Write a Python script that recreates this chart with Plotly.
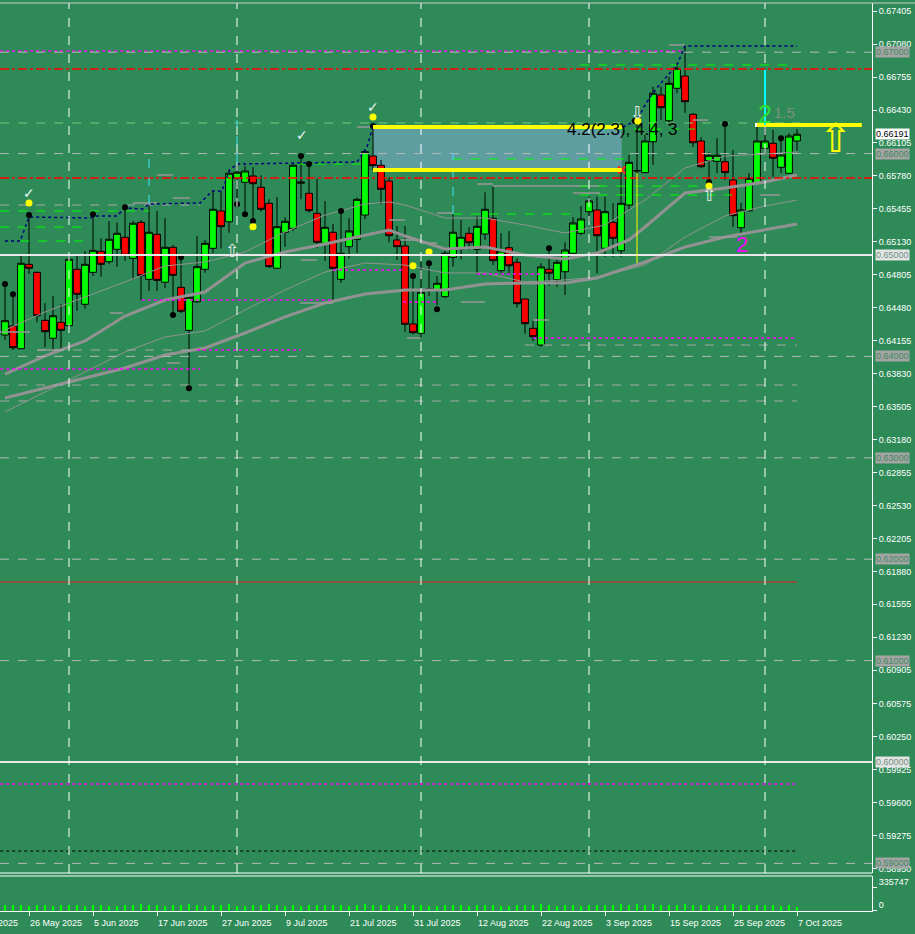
import plotly.graph_objects as go
import pandas as pd

# ---------------- data ----------------
days = pd.bdate_range("2025-05-21", "2025-10-07")
idx = list(range(len(days)))

opens = [0.64211,0.64300,0.64076,0.64908,0.64829,0.64356,0.64179,0.64336,0.64303,0.64859,
         0.64514,0.64829,0.65036,0.64934,0.65056,0.65175,0.64967,0.65322,0.64760,0.65204,
         0.64731,0.65076,0.64681,0.64257,0.64539,0.64859,0.65066,0.65434,0.65328,0.65756,
         0.65717,0.65779,0.65668,0.65510,0.64869,0.65224,0.65263,0.65707,0.65608,0.65411,
         0.65115,0.65224,0.64760,0.65082,0.65155,0.65394,0.65976,0.65885,0.65730,0.65148,
         0.65089,0.64320,0.64228,0.64660,0.64655,0.64589,0.64977,0.65059,0.65214,0.65056,
         0.65207,0.65362,0.64845,0.65072,0.64928,0.64566,0.64277,0.64112,0.64859,0.64756,
         0.64835,0.65017,0.65214,0.65427,0.65444,0.65066,0.65322,0.65042,0.65493,0.65828,
         0.65812,0.66117,0.66578,0.66324,0.66644,0.66765,0.66388,0.66124,0.65930,0.65924,
         0.65920,0.65740,0.65269,0.65437,0.65713,0.66052,0.66102,0.65865,0.65806,0.66124]
highs = [0.64704,0.64612,0.64990,0.65394,0.64835,0.64524,0.64596,0.64517,0.64990,0.64990,
         0.65039,0.65401,0.65165,0.65335,0.65322,0.65470,0.65335,0.65345,0.65500,0.65434,
         0.65362,0.65099,0.64977,0.64589,0.65187,0.65148,0.65631,0.65631,0.65845,0.65888,
         0.65878,0.65868,0.65786,0.65549,0.65569,0.65372,0.65895,0.65954,0.65897,0.65750,
         0.65533,0.65306,0.65434,0.65362,0.65565,0.66036,0.66262,0.65937,0.65766,0.65286,
         0.65286,0.64793,0.64934,0.64918,0.64793,0.65076,0.65411,0.65345,0.65273,0.65388,
         0.65618,0.65674,0.65214,0.65237,0.64967,0.64566,0.64352,0.64918,0.65066,0.64983,
         0.65125,0.65372,0.65483,0.65575,0.65575,0.65575,0.65510,0.65855,0.65986,0.66351,
         0.66183,0.66660,0.66660,0.66758,0.66893,0.67061,0.66400,0.66161,0.66019,0.66151,
         0.66282,0.66036,0.65516,0.65806,0.66299,0.66265,0.66233,0.66151,0.66200,0.66240]
lows = [0.64162,0.64063,0.64073,0.64813,0.64336,0.64090,0.64070,0.64070,0.64290,0.64451,
        0.64470,0.64793,0.64786,0.64911,0.64885,0.64944,0.64760,0.64553,0.64648,0.64648,
        0.64672,0.64441,0.64428,0.63718,0.64530,0.64825,0.65017,0.65066,0.65220,0.65510,
        0.65401,0.65335,0.65428,0.64872,0.64862,0.65082,0.65237,0.65549,0.65417,0.65066,
        0.64944,0.64539,0.64727,0.64967,0.65023,0.65352,0.65838,0.65500,0.65125,0.64951,
        0.64244,0.64218,0.64188,0.64596,0.64507,0.64579,0.64885,0.64958,0.65049,0.64820,
        0.65148,0.64901,0.64825,0.64810,0.64480,0.64224,0.64152,0.64096,0.64694,0.64687,
        0.64606,0.64983,0.65197,0.65328,0.64820,0.64983,0.64983,0.64983,0.65444,0.65799,
        0.65806,0.65888,0.66331,0.66282,0.66595,0.66403,0.66062,0.65855,0.65723,0.65806,
        0.65740,0.65279,0.65207,0.65427,0.65707,0.66003,0.65772,0.65806,0.65799,0.66029]
closes = [0.64352,0.64086,0.64918,0.64869,0.64401,0.64244,0.64401,0.64257,0.64958,0.64612,
          0.64908,0.65046,0.64908,0.65155,0.65214,0.64997,0.65313,0.64796,0.65224,0.64750,
          0.65076,0.64800,0.64445,0.64583,0.64885,0.65115,0.65451,0.65279,0.65806,0.65816,
          0.65828,0.65703,0.65451,0.64885,0.65279,0.65332,0.65885,0.65720,0.65437,0.65125,
          0.65273,0.64869,0.65017,0.65237,0.65549,0.66019,0.65881,0.65648,0.65190,0.65082,
          0.64317,0.64234,0.64632,0.64665,0.64721,0.65017,0.65224,0.65175,0.65121,0.65283,
          0.65451,0.64944,0.65039,0.64894,0.64520,0.64323,0.64194,0.64882,0.64820,0.64928,
          0.65049,0.65316,0.65355,0.65533,0.65190,0.65427,0.65165,0.65510,0.65914,0.65833,
          0.66124,0.66595,0.66453,0.66693,0.66841,0.66512,0.66107,0.65871,0.65983,0.65983,
          0.65812,0.65388,0.65444,0.65756,0.66124,0.66124,0.65954,0.65986,0.66173,0.66191]
volumes = [82000,91000,88000,76000,84000,95000,79000,86000,92000,81000,
           77000,89000,85000,80000,74000,93000,87000,98000,90000,83000,
           78000,94000,86000,99000,88000,72000,91000,84000,96000,70000,
           75000,82000,87000,97000,89000,79000,92000,76000,85000,88000,
           81000,95000,84000,78000,90000,97000,83000,86000,93000,80000,
           99000,88000,94000,73000,77000,86000,89000,82000,75000,84000,
           91000,93000,80000,78000,88000,92000,85000,100000,87000,79000,
           83000,90000,76000,81000,94000,89000,82000,96000,91000,98000,
           87000,99000,85000,92000,90000,102000,95000,88000,84000,80000,
           86000,97000,83000,89000,93000,81000,85000,78000,88000,60000]

# moving averages read at sample bars
ma1_x = [0,5,10,15,20,25,30,35,40,45,48,50,55,60,65,70,74,78,80,85,90,95,99]
ma1_y = [0.63826,0.64004,0.64152,0.64398,0.64556,0.64635,0.64921,0.65030,0.65108,0.65197,0.65247,
         0.65187,0.65059,0.65079,0.65000,0.64961,0.65020,0.65148,0.65276,0.65611,0.65661,0.65720,0.65789]
ma2_x = [0,5,10,15,20,25,30,35,40,45,50,55,60,65,70,74,80,85,90,95,99]
ma2_y = [0.63590,0.63689,0.63787,0.63886,0.64014,0.64083,0.64231,0.64389,0.64527,0.64615,0.64655,
         0.64655,0.64714,0.64724,0.64724,0.64773,0.64931,0.65079,0.65177,0.65247,0.65306]
ma3_x = [0,5,10,15,20,25,30,35,40,45,48,50,55,60,65,70,75,80,85,90,95,99]
ma3_y = [0.64260,0.64438,0.64586,0.64734,0.64892,0.64931,0.65030,0.65227,0.65394,0.65503,0.65523,
         0.65493,0.65365,0.65365,0.65296,0.65217,0.65296,0.65542,0.65858,0.65976,0.65996,0.66016]
ma4_x = [0,5,10,15,20,25,30,35,40,45,50,55,60,65,70,74,80,85,90,95,99]
ma4_y = [0.63452,0.63649,0.63846,0.64044,0.64191,0.64251,0.64458,0.64655,0.64832,0.64921,0.64901,
         0.64823,0.64823,0.64734,0.64754,0.64783,0.64901,0.65177,0.65385,0.65483,0.65542]

# fractal dots and signal dots
frac_x = [0,1,3,11,15,21,22,23,29,30,31,37,38,42,46,51,53,54,68,78.7,88,90,97]
frac_y = [0.64714,0.64612,0.65394,0.65401,0.65470,0.64408,0.64977,0.63686,0.65500,0.65401,0.65335,
          0.65976,0.65897,0.65434,0.66272,0.64793,0.64918,0.64465,0.65066,0.66321,0.65717,0.66292,0.66151]
sig_x = [3,31,46,51,53,79.1,88]
sig_y = [0.65513,0.65279,0.66361,0.64894,0.65030,0.66321,0.65680]

# stepped trailing lines
trail_a_x = [0,1.9,3,10.6,11.5,14,15,17.25,18,24.4,25.9,27.1,28.1,29,44,45.25,46]
trail_a_y = [0.65138,0.65138,0.65375,0.65365,0.65385,0.65385,0.65464,0.65454,0.65503,0.65513,
             0.65631,0.65631,0.65838,0.65897,0.65917,0.66065,0.66262]
trail_b_x = [77.25,79,80,81,82.1,84,85,99]
trail_b_y = [0.66262,0.66331,0.66479,0.66598,0.66706,0.66874,0.67061,0.67061]

# level segments: start bar, end bar, price
green_x0 = [-0.6,-0.6,1.9,36.6,56,56,71.9,71.9,71.9,71.9]
green_x1 = [18,10.6,10.6,45,77.9,71.9,98.75,86.25,86.9,90.9]
green_y  = [0.65434,0.65276,0.65138,0.65897,0.65947,0.65404,0.66874,0.66242,0.65680,0.65592]
pale_x0 = [-0.6]; pale_x1 = [99.4]; pale_y = [0.66302]
mag_x0 = [-0.6,-0.6,24,17.1,41,49.75,59,66,-0.6]
mag_x1 = [84.75,24.4,37,40.9,49.75,54,66.9,99,99]
mag_y  = [0.67012,0.63876,0.64063,0.64556,0.64852,0.64536,0.64813,0.64181,0.59783]
grey_x0 = [-0.6,-0.6,-0.6,4,65]
grey_x1 = [99,99,24.4,24,99]
grey_y  = [0.63718,0.63560,0.65493,0.64063,0.64112]
# short grey level stubs
stub_x0 = [19,16,21,13.1,-0.6,4,20.25,44,59,61,71,54,48,37,49.4,52,57,36.9,50.25,66,83,86,94.4,88]
stub_x1 = [21,19,23.1,14.75,3.1,7.25,21.9,45.9,61,74.4,74.4,56,50,39,51.5,54,60,41,51.9,68,85,87.9,96.9,91.5]
stub_y  = [0.65789,0.65513,0.65562,0.64428,0.64241,0.64063,0.63935,0.66262,0.65700,0.65680,0.65611,
           0.65414,0.65345,0.64951,0.65148,0.65118,0.64536,0.64527,0.64181,0.64359,0.67071,0.66331,
           0.65592,0.65177]
red_x0 = [-0.6]; red_x1 = [99]; red_y = [0.61775]
blk_x0 = [-0.6]; blk_x1 = [99]; blk_y = [0.59122]

round_levels = [0.67, 0.66, 0.64, 0.63, 0.62, 0.61, 0.59]
white_levels = [0.65, 0.60]
red_levels = [0.66834, 0.65759]
last_price = 0.66191

box_x = [46, 77.1]
box_y = [0.65838, 0.66262]
target_x = [94, 107.1]
target_y = 0.66282
target_marks_x = [94, 96.5, 99]
cyan_x = 95
cyan_y = [0.66282, 0.66824]
yel_vert_x = 79
yel_vert_y = [0.64921, 0.65809]
cyan_dash_x = [18, 29, 56]
cyan_dash_y0 = [0.65503, 0.65907, 0.65404]
cyan_dash_y1 = [0.65986, 0.66331, 0.66006]

price_ticks = [0.67405,0.67080,0.66755,0.66430,0.66105,0.65780,0.65455,0.65130,0.64805,0.64480,
               0.64155,0.63830,0.63505,0.63180,0.62855,0.62530,0.62205,0.61880,0.61555,0.61230,
               0.60905,0.60575,0.60250,0.59925,0.59600,0.59275,0.58950]
price_tick_text = ["%.5f" % v for v in price_ticks]

date_labels = ["14 May 2025","26 May 2025","5 Jun 2025","17 Jun 2025","27 Jun 2025","9 Jul 2025",
               "21 Jul 2025","31 Jul 2025","12 Aug 2025","22 Aug 2025","3 Sep 2025","15 Sep 2025",
               "25 Sep 2025","7 Oct 2025"]

# ---------------- helpers ----------------
def pos_of(label):
    d = pd.Timestamp(label)
    if d >= days[0]:
        return len(pd.bdate_range(days[0], d)) - 1
    return -(len(pd.bdate_range(d, days[0])) - 1)

date_pos = [pos_of(l) for l in date_labels]
month_starts = [i for i in idx if i > 0 and days[i].month != days[i - 1].month]

X_RANGE = [-0.625, 108.375]

def segs(x0s, x1s, ys):
    X, Y = [], []
    for a, b, y in zip(x0s, x1s, ys):
        X += [a, b, None]
        Y += [y, y, None]
    return X, Y

FONT = "Liberation Sans"
fig = go.Figure()

def add_line(x, y, color, width=1, dash=None, ax='y'):
    fig.add_trace(go.Scatter(x=x, y=y, mode='lines', yaxis=ax, hoverinfo='skip',
                             line=dict(color=color, width=width, dash=dash), connectgaps=False))

# moving averages
add_line(ma4_x, ma4_y, '#929292', 1)
add_line(ma3_x, ma3_y, '#929292', 1)
add_line(ma2_x, ma2_y, '#929292', 3)
add_line(ma1_x, ma1_y, '#929292', 3)

# segments
add_line(*segs(stub_x0, stub_x1, stub_y), '#999999', 1.5)
add_line(*segs(grey_x0, grey_x1, grey_y), '#a8a8a8', 1, 'dash')
add_line(*segs(pale_x0, pale_x1, pale_y), '#78c878', 1, 'dash')
add_line(*segs(green_x0, green_x1, green_y), '#00ff00', 1, 'dash')
add_line(*segs(mag_x0, mag_x1, mag_y), '#ff00ff', 1.5, 'dot')
add_line(*segs(red_x0, red_x1, red_y), '#e02020', 1)
add_line(*segs(blk_x0, blk_x1, blk_y), '#000000', 1, 'dot')
add_line(trail_a_x, trail_a_y, '#000080', 1.5, 'dot')
add_line(trail_b_x, trail_b_y, '#000080', 1.5, 'dot')

# candles
fig.add_trace(go.Candlestick(
    x=idx, open=opens, high=highs, low=lows, close=closes,
    increasing=dict(line=dict(color='black', width=1), fillcolor='#00ff00'),
    decreasing=dict(line=dict(color='black', width=1), fillcolor='#ff0000'),
    whiskerwidth=0, hoverinfo='skip', yaxis='y'))

# dots
fig.add_trace(go.Scatter(x=frac_x, y=frac_y, mode='markers', hoverinfo='skip',
                         marker=dict(color='black', size=6)))
fig.add_trace(go.Scatter(x=sig_x, y=sig_y, mode='markers', hoverinfo='skip',
                         marker=dict(color='#ffff00', size=7)))
fig.add_trace(go.Scatter(x=[box_x[1]], y=[box_y[0]], mode='markers', hoverinfo='skip',
                         marker=dict(color='#ff2020', size=7, symbol='x-thin', line=dict(color='#ff2020', width=2))))
fig.add_trace(go.Scatter(x=target_marks_x, y=[target_y] * 3, mode='markers', hoverinfo='skip',
                         marker=dict(color='white', size=4, symbol='square')))

# volume
fig.add_trace(go.Bar(x=idx, y=volumes, yaxis='y2', marker=dict(color='#00ff00', line=dict(width=0)),
                     width=0.15, hoverinfo='skip'))

shapes = []
for v in round_levels:
    shapes.append(dict(type='line', xref='paper', x0=0, x1=1, yref='y', y0=v, y1=v,
                       line=dict(color='#b8b8b8', width=1, dash='dash')))
for v in white_levels:
    shapes.append(dict(type='line', xref='paper', x0=0, x1=1, yref='y', y0=v, y1=v,
                       line=dict(color='#e8e8e8', width=2)))
for v in red_levels:
    shapes.append(dict(type='line', xref='paper', x0=0, x1=1, yref='y', y0=v, y1=v,
                       line=dict(color='#ff0000', width=1.5, dash='dashdot')))
for m in month_starts:
    shapes.append(dict(type='line', xref='x', x0=m, x1=m, yref='y domain', y0=0, y1=1,
                       line=dict(color='white', width=1, dash='dash')))
for xx, a, b in zip(cyan_dash_x, cyan_dash_y0, cyan_dash_y1):
    shapes.append(dict(type='line', xref='x', x0=xx, x1=xx, yref='y', y0=a, y1=b,
                       line=dict(color='#40e0ff', width=1, dash='dash')))
shapes.append(dict(type='rect', xref='x', yref='y', x0=box_x[0], x1=box_x[1], y0=box_y[0], y1=box_y[1],
                   fillcolor='#5f9ea0', line=dict(width=0), layer='below'))
for v in box_y:
    shapes.append(dict(type='line', xref='x', yref='y', x0=box_x[0], x1=box_x[1], y0=v, y1=v,
                       line=dict(color='#ffff00', width=4)))
shapes.append(dict(type='line', xref='x', yref='y', x0=target_x[0], x1=target_x[1], y0=target_y, y1=target_y,
                   line=dict(color='#ffff00', width=4)))
shapes.append(dict(type='line', xref='x', yref='y', x0=cyan_x, x1=cyan_x, y0=cyan_y[0], y1=cyan_y[1],
                   line=dict(color='#00ffff', width=2)))
shapes.append(dict(type='line', xref='x', yref='y', x0=yel_vert_x, x1=yel_vert_x, y0=yel_vert_y[0],
                   y1=yel_vert_y[1], line=dict(color='#ffff00', width=1)))
# frame
shapes.append(dict(type='line', xref='paper', x0=0, x1=1, yref='y domain', y0=0, y1=0,
                   line=dict(color='white', width=1)))
shapes.append(dict(type='line', xref='paper', x0=0, x1=1, yref='y2 domain', y0=1, y1=1,
                   line=dict(color='white', width=1)))
shapes.append(dict(type='line', xref='paper', x0=0, x1=1.05, yref='paper', y0=1, y1=1,
                   line=dict(color='#c8c8c8', width=1)))

ann = []
for v in round_levels:
    ann.append(dict(xref='paper', x=1, xanchor='left', xshift=3, yref='y', y=v, text="%.5f" % v,
                    showarrow=False, bgcolor='#a4a4a4', borderpad=0,
                    font=dict(family=FONT, size=9, color='#3f8a62')))
for v in white_levels:
    ann.append(dict(xref='paper', x=1, xanchor='left', xshift=3, yref='y', y=v, text="%.5f" % v,
                    showarrow=False, bgcolor='#e4e4e4', borderpad=0,
                    font=dict(family=FONT, size=9, color='#6f8f7f')))
ann.append(dict(xref='paper', x=1, xanchor='left', xshift=3, yref='y', y=last_price, text="%.5f" % last_price,
                showarrow=False, bgcolor='white', borderpad=0, font=dict(family=FONT, size=9, color='black')))
for p, l in zip(date_pos, date_labels):
    if X_RANGE[0] <= p <= X_RANGE[1]:
        ann.append(dict(xref='x', x=p, xanchor='left', xshift=-1, yref='paper', y=0, yanchor='top',
                        yshift=-5, text=l, showarrow=False, font=dict(family=FONT, size=9, color='white')))
    else:
        px = (p - X_RANGE[0]) / (X_RANGE[1] - X_RANGE[0])
        ann.append(dict(xref='paper', x=px, xanchor='left', xshift=-1, yref='paper', y=0, yanchor='top',
                        yshift=-5, text=l, showarrow=False, font=dict(family=FONT, size=9, color='white')))

def txt(x, y, s, size, color, xanchor='center', family="DejaVu Sans"):
    ann.append(dict(xref='x', yref='y', x=x, y=y, text=s, showarrow=False, xanchor=xanchor,
                    font=dict(family=family, size=size, color=color)))

txt(70, 0.66242, "4.2(2.3), 4.4, 3", 17, 'black', 'left', FONT)
txt(95.06, 0.66395, "2", 25, '#32dc32', 'center', FONT)
txt(95.9, 0.66405, "1.5", 15, '#7f8f80', 'left', FONT)
txt(92.1, 0.65099, "2", 22, '#ff00ff', 'center', FONT)
txt(3, 0.65611, "✓", 14, '#e8f4f4')
txt(46, 0.66460, "✓", 14, '#e8f4f4')
txt(37.1, 0.66183, "✓", 14, '#e8f4f4')
txt(28.4, 0.65049, "⇧", 18, '#e8e8e8')
txt(88, 0.65592, "⇧", 18, '#e8e8e8')
txt(79, 0.66410, "⇩", 18, '#e8e8e8')
txt(103.9, 0.66154, "⇧", 40, '#ffff00')

fig.update_layout(
    width=915, height=934,
    margin=dict(l=0, r=43, t=3, b=23, autoexpand=False),
    paper_bgcolor='#2e8b57', plot_bgcolor='#2e8b57',
    showlegend=False, boxgap=0.15, boxgroupgap=0, bargap=0,
    shapes=shapes, annotations=ann,
    xaxis=dict(range=X_RANGE, anchor='y2', showline=True, linecolor='white', linewidth=1,
               ticks='outside', ticklen=4, tickcolor='white', tickvals=date_pos[1:],
               showticklabels=False, showgrid=False, zeroline=False,
               rangeslider=dict(visible=False), fixedrange=True),
    yaxis=dict(domain=[0.04185, 1], range=[0.589053, 0.674852], side='right', anchor='x',
               tickvals=price_ticks, ticktext=price_tick_text, ticks='outside', ticklen=4,
               tickcolor='white', tickfont=dict(family=FONT, size=9, color='white'),
               showline=True, linecolor='white', linewidth=1, showgrid=False, zeroline=False,
               fixedrange=True),
    yaxis2=dict(domain=[0, 0.03855], range=[0, 511000], side='right', anchor='x',
                tickvals=[0, 335747], ticktext=['0', '335747'], ticks='outside', ticklen=4,
                tickcolor='white', tickfont=dict(family=FONT, size=9, color='white'),
                ticklabelshift=-6,
                showline=True, linecolor='white', linewidth=1, showgrid=False, zeroline=False,
                fixedrange=True),
)

fig.write_html("out.html", config={"displayModeBar": False},
               post_script="document.body.style.margin='0';document.body.style.overflow='hidden';")
